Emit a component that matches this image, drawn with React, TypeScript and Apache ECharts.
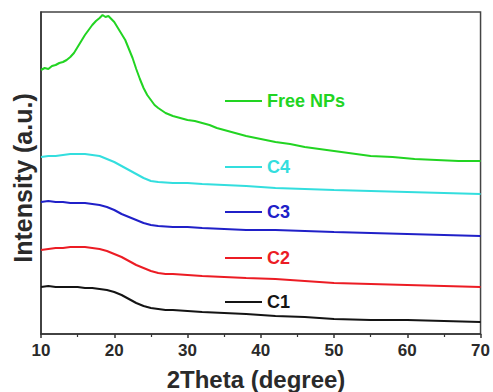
import React, { useEffect, useRef } from "react";
import * as echarts from "echarts";

const xTicks = [10, 20, 30, 40, 50, 60, 70];

const greenX = [10, 10.5, 11, 11.5, 12, 12.5, 13, 13.5, 14, 14.5, 15, 15.5, 16, 16.5, 17, 17.5, 18, 18.4, 18.8, 19.2, 19.6, 20, 20.5, 21, 21.5, 22, 22.5, 23, 23.5, 24, 24.5, 25, 25.5, 26, 27, 28, 29, 30, 31, 32, 33, 34, 35, 36, 38, 40, 42, 44, 46, 48, 50, 52, 55, 58, 61, 64, 67, 70];
const freeNPs = [264, 266, 265, 268, 269, 271, 272, 274, 277, 281, 287, 293, 299, 304, 309, 313, 316, 319, 317, 318, 315, 312, 306, 300, 294, 285, 276, 265, 255, 246, 239, 234, 229, 226, 221, 218, 216, 214, 213, 211, 209, 206, 204, 202, 198, 195, 192, 190, 187, 185, 183, 181, 178, 177, 175, 174, 173, 173];

const sampleX = [10, 11, 12, 13, 14, 15, 16, 17, 18, 19, 20, 21, 22, 23, 24, 25, 26, 27, 28, 30, 32, 35, 38, 42, 46, 50, 55, 60, 65, 70];
const c4 = [177, 178, 178, 179, 180, 180, 180, 179, 178, 175, 172, 168, 164, 160, 156, 153, 152, 151.5, 151, 151, 150, 149, 148, 146, 145, 144, 143, 142, 141, 140];
const c3 = [132, 133, 132, 132, 131, 131, 131, 130, 129, 127, 124, 120, 117, 114, 111, 109, 108, 107.5, 107, 107, 106, 105, 104, 104, 103, 102, 101, 100, 99, 98];
const c2 = [84, 85, 86, 86, 87, 87, 87, 86, 85, 83, 80, 77, 73, 69, 66, 63, 61, 60, 60, 59, 58, 57, 56, 55, 53, 51, 50, 49, 48, 47];
const c1 = [47, 48, 47, 47, 47, 47, 46, 46, 45, 44, 42, 39, 35, 31, 28, 26, 25, 24, 24, 23, 22, 21, 20, 18, 17, 15, 14, 14, 13, 12];

const names = ["Free NPs", "C4", "C3", "C2", "C1"];
const colors = ["#22d422", "#33dede", "#2020c8", "#ec1c24", "#141414"];
const legendTops = [92, 158, 203, 249, 293];

const zip = (xs: number[], ys: number[]) => xs.map((x, i) => [x, ys[i]]);

export default function App() {
  const ref = useRef<HTMLDivElement>(null);
  useEffect(() => {
    if (!ref.current) return;
    const chart = echarts.init(ref.current, null, { renderer: "svg" });
    const seriesData = [zip(greenX, freeNPs), zip(sampleX, c4), zip(sampleX, c3), zip(sampleX, c2), zip(sampleX, c1)];
    chart.setOption({
      animation: false,
      backgroundColor: "#ffffff",
      grid: { left: 41, right: 11, top: 12, bottom: 58, show: true, borderColor: "#444", borderWidth: 1.5 },
      xAxis: {
        type: "value",
        min: xTicks[0],
        max: xTicks[xTicks.length - 1],
        interval: 10,
        axisLine: { lineStyle: { color: "#333", width: 1.5 } },
        axisTick: { show: true, length: 4, lineStyle: { color: "#333", width: 1.5 } },
        minorTick: { show: true, splitNumber: 2, length: 3, lineStyle: { color: "#333", width: 1.2 } },
        splitLine: { show: false },
        axisLabel: { color: "#2a2a2a", fontSize: 17, fontWeight: "bold", fontFamily: "Liberation Sans, Arial", margin: 8 },
      },
      yAxis: {
        type: "value",
        min: 0,
        max: 322,
        axisLine: { show: true, lineStyle: { color: "#333", width: 1.5 } },
        axisTick: { show: false },
        axisLabel: { show: false },
        splitLine: { show: false },
      },
      legend: names.map((n, i) => ({
        data: [{ name: n, icon: "rect" }],
        left: 225,
        top: legendTops[i],
        padding: 0,
        itemWidth: 37,
        itemHeight: 2,
        textStyle: { color: colors[i], fontSize: 18, fontWeight: "bold", fontFamily: "Liberation Sans, Arial" },
      })),
      series: names.map((n, i) => ({
        name: n,
        type: "line",
        data: seriesData[i],
        symbol: "none",
        lineStyle: { color: colors[i], width: 2 },
        itemStyle: { color: colors[i] },
      })),
      graphic: [
        {
          type: "text",
          x: 256,
          y: 379,
          style: { text: "2Theta (degree)", fill: "#2a2a2a", font: "bold 24px 'Liberation Sans', Arial", textAlign: "center", textVerticalAlign: "middle" },
        },
        {
          type: "text",
          x: 23,
          y: 178,
          rotation: Math.PI / 2,
          style: { text: "Intensity (a.u.)", fill: "#2a2a2a", font: "bold 25px 'Liberation Sans', Arial", textAlign: "center", textVerticalAlign: "middle" },
        },
      ],
    });
    return () => chart.dispose();
  }, []);
  return <div ref={ref} style={{ position: "fixed", left: 0, top: 0, width: 493, height: 392 }} />;
}
